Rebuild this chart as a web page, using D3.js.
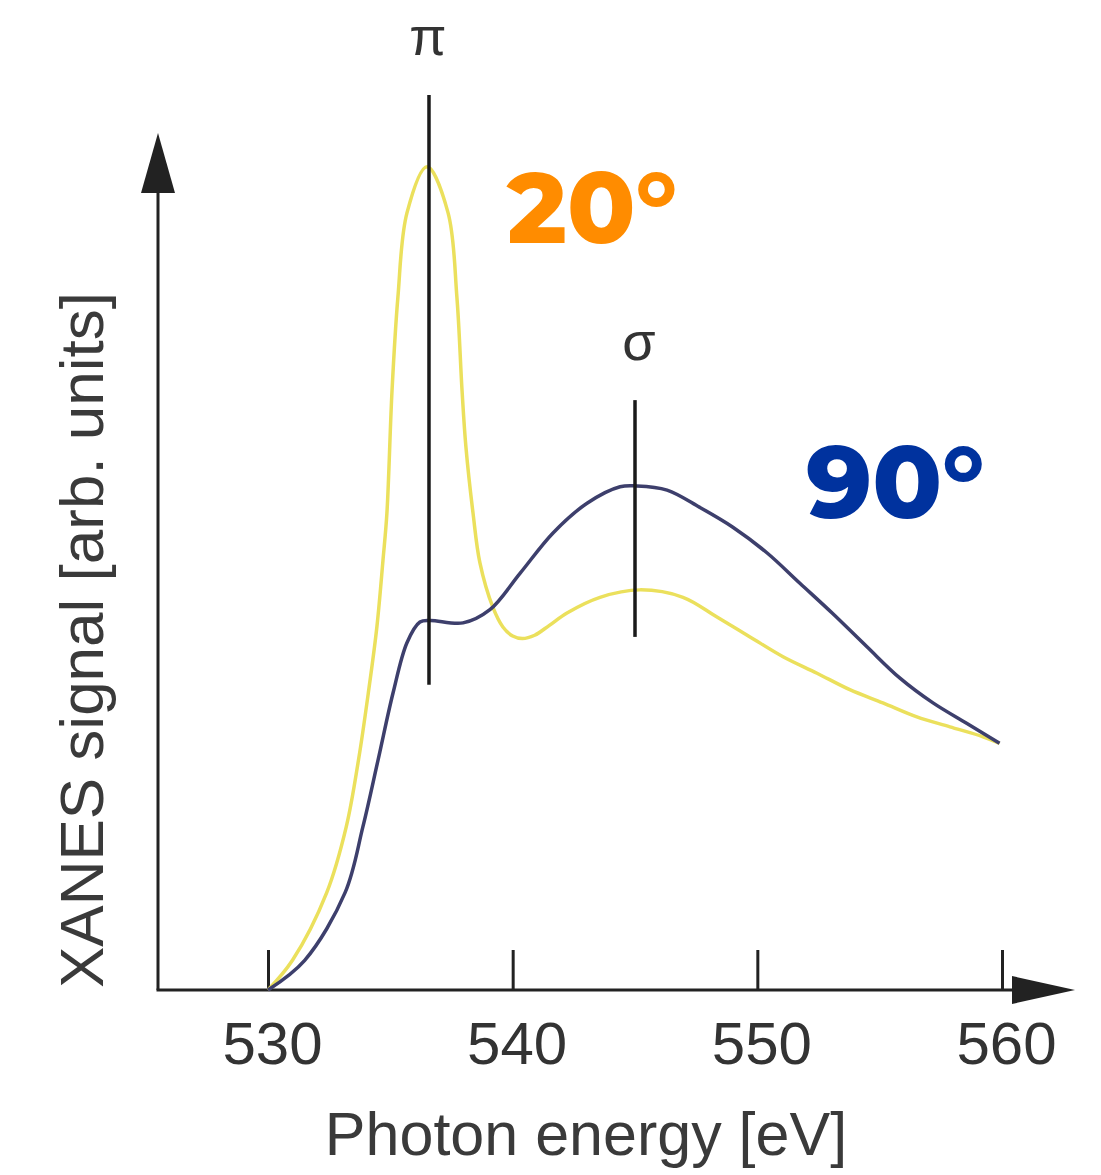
<!DOCTYPE html>
<html>
<head>
<meta charset="utf-8">
<script src="https://cdn.jsdelivr.net/npm/d3@7"></script>
<style>
  body { margin: 0; background: #fff; }
  text { font-family: "Liberation Sans", Arial, sans-serif; }
</style>
</head>
<body>
<div id="chart"></div>
<script>
// spectrum at 20 deg incidence (yellow)
var energy20 = [530.0, 531.0, 532.4, 533.2, 533.7, 534.1, 534.45, 534.7, 534.86, 535.07, 535.31, 535.68,
    536.5, 537.36, 537.72, 537.93, 538.09, 538.38, 538.66, 539.19, 539.6, 540.0, 540.4, 540.9, 541.5,
    542.22, 543.57, 545.2, 546.96, 548.35, 549.7, 551.05, 552.44, 553.78, 555.13, 556.52, 557.87,
    559.22, 559.9];
var signal20 = [0.0, 0.036, 0.118, 0.198, 0.279, 0.36, 0.44, 0.521, 0.578, 0.727, 0.84, 0.942,
    0.998, 0.942, 0.84, 0.727, 0.658, 0.578, 0.518, 0.464, 0.44, 0.429, 0.426, 0.43, 0.442,
    0.457, 0.476, 0.485, 0.476, 0.452, 0.428, 0.404, 0.384, 0.364, 0.348, 0.331, 0.319,
    0.307, 0.299];

// spectrum at 90 deg incidence (navy)
var energy90 = [530.0, 531.5, 533.15, 533.88, 534.5, 535.11, 535.68, 536.21, 536.62, 537.97, 539.07,
    540.3, 541.65, 543.04, 544.39, 545.08, 546.31, 547.65, 549.0, 550.39, 551.74, 553.09, 554.48,
    555.83, 557.18, 558.57, 559.9];
var signal90 = [0.0, 0.036, 0.118, 0.198, 0.279, 0.36, 0.421, 0.446, 0.448, 0.445, 0.461,
    0.505, 0.554, 0.59, 0.61, 0.611, 0.606, 0.585, 0.561, 0.53, 0.493, 0.456, 0.416,
    0.378, 0.348, 0.323, 0.299];

var tickValues = [530, 540, 550, 560];

// resonance markers
var markLabels = ["π", "σ"];
var markEnergies = [536.58, 545.0];
var markTop = [1.085, 0.715];
var markBottom = [0.37, 0.428];

var width = 1101;
var height = 1175;
var axisColor = "#222";

var x = d3.scaleLinear().domain([530, 560]).range([268, 1002]);
var y = d3.scaleLinear().domain([0, 1]).range([990, 165]);

var svg = d3.select("#chart").append("svg")
    .attr("width", width)
    .attr("height", height);

// axes lines with arrows
var originX = 158;
var originY = y(0);

svg.append("line")
    .attr("x1", originX)
    .attr("y1", originY)
    .attr("x2", originX)
    .attr("y2", 185)
    .style("stroke", axisColor)
    .style("stroke-width", 3);

svg.append("path")
    .attr("d", "M" + originX + ",133 L" + (originX - 17) + ",193 L" + (originX + 17) + ",193 Z")
    .style("fill", axisColor);

svg.append("line")
    .attr("x1", originX - 1.5)
    .attr("y1", originY)
    .attr("x2", 1020)
    .attr("y2", originY)
    .style("stroke", axisColor)
    .style("stroke-width", 3);

svg.append("path")
    .attr("d", "M1075," + originY + " L1012," + (originY - 14) + " L1012," + (originY + 14) + " Z")
    .style("fill", axisColor);

// x axis ticks pointing up, labels below
var xAxis = d3.axisBottom(x)
    .tickValues(tickValues)
    .tickFormat(d3.format("d"))
    .tickSizeInner(-40)
    .tickSizeOuter(0)
    .tickPadding(31);

var gx = svg.append("g")
    .attr("transform", "translate(0," + originY + ")")
    .call(xAxis);

gx.select(".domain").remove();
gx.selectAll(".tick line")
    .style("stroke", axisColor)
    .style("stroke-width", 3);
gx.selectAll(".tick text")
    .attr("dx", 4)
    .style("font-family", "'Liberation Sans', Arial, sans-serif")
    .style("font-size", "60px")
    .style("fill", "#333");

// axis titles
svg.append("text")
    .attr("x", 586)
    .attr("y", 1155)
    .attr("text-anchor", "middle")
    .style("font-size", "61px")
    .style("fill", "#3a3a3a")
    .text("Photon energy [eV]");

svg.append("text")
    .attr("transform", "translate(103,640) rotate(-90)")
    .attr("text-anchor", "middle")
    .style("font-size", "62px")
    .style("fill", "#3a3a3a")
    .text("XANES signal [arb. units]");

// spectra
var line = d3.line()
    .x(function (d) { return x(d[0]); })
    .y(function (d) { return y(d[1]); })
    .curve(d3.curveCatmullRom.alpha(0.5));

svg.append("path")
    .datum(d3.zip(energy20, signal20))
    .attr("d", line)
    .style("fill", "none")
    .style("stroke", "#ebe05c")
    .style("stroke-width", 3.5);

svg.append("path")
    .datum(d3.zip(energy90, signal90))
    .attr("d", line)
    .style("fill", "none")
    .style("stroke", "#3d3f6c")
    .style("stroke-width", 3.5);

// pi and sigma marker lines
svg.selectAll(".mark")
    .data(markEnergies)
    .enter().append("line")
    .attr("class", "mark")
    .attr("x1", function (d) { return x(d); })
    .attr("x2", function (d) { return x(d); })
    .attr("y1", function (d, i) { return y(markTop[i]); })
    .attr("y2", function (d, i) { return y(markBottom[i]); })
    .style("stroke", "#1a1a1a")
    .style("stroke-width", 3.5);

svg.selectAll(".markLabel")
    .data(markLabels)
    .enter().append("text")
    .attr("class", "markLabel")
    .attr("x", function (d, i) { return x(markEnergies[i]) + (i == 0 ? -1 : 4); })
    .attr("y", function (d, i) { return y(markTop[i]) - 40; })
    .attr("text-anchor", "middle")
    .style("font-size", "54px")
    .style("fill", "#333")
    .text(function (d) { return d; });

// angle labels
svg.append("text")
    .attr("x", 507)
    .attr("y", 243)
    .style("font-family", "Montserrat, 'Open Sans', sans-serif")
    .style("font-weight", 800)
    .style("font-size", "100px")
    .style("fill", "#ff8c00")
    .text("20°");

svg.append("text")
    .attr("x", 806)
    .attr("y", 518)
    .style("font-family", "Montserrat, 'Open Sans', sans-serif")
    .style("font-weight", 800)
    .style("font-size", "102px")
    .style("fill", "#00329e")
    .text("90°");
</script>
</body>
</html>
